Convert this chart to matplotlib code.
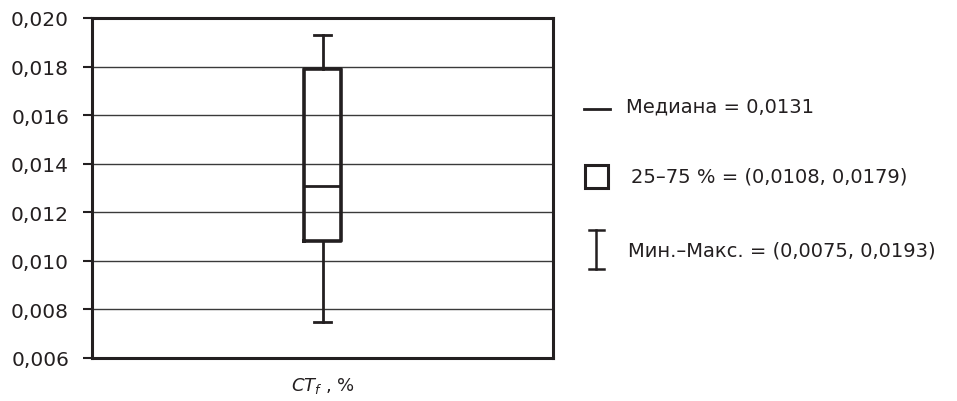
import matplotlib
matplotlib.use("Agg")
import matplotlib.pyplot as plt
from matplotlib.lines import Line2D
from matplotlib.patches import Rectangle
from matplotlib.ticker import FuncFormatter

plt.rcParams['font.family'] = ['DejaVu Sans']
plt.rcParams['mathtext.fontset'] = 'dejavusans'

# summary statistics for CT_f
median = 0.0131
q1, q3 = 0.0108, 0.0179
vmin, vmax = 0.0075, 0.0193
yticks = [0.006, 0.008, 0.010, 0.012, 0.014, 0.016, 0.018, 0.020]

legend_texts = [
    "Медиана = 0,0131",
    "25–75 % = (0,0108, 0,0179)",
    "Мин.–Макс. = (0,0075, 0,0193)",
]

dark = "#231f20"

fig = plt.figure(figsize=(9.57, 4.02), dpi=100)
ax = fig.add_axes([92 / 957, 1 - 359 / 402, (553 - 92) / 957, (359 - 19) / 402])

stats = [dict(med=median, q1=q1, q3=q3, whislo=vmin, whishi=vmax, fliers=[])]
ax.bxp(stats, positions=[1], widths=0.08, capwidths=0.037, showfliers=False,
       boxprops=dict(color=dark, linewidth=2.6),
       medianprops=dict(color=dark, linewidth=2.0),
       whiskerprops=dict(color=dark, linewidth=2.0),
       capprops=dict(color=dark, linewidth=2.0), zorder=3)

ax.set_xlim(0.5, 1.5)
ax.set_ylim(0.006, 0.020)
ax.set_yticks(yticks)
ax.yaxis.set_major_formatter(FuncFormatter(lambda v, p: f"{v:.3f}".replace(".", ",")))
ax.set_xticks([1])
ax.set_xticklabels([r"$\mathit{CT}_{\mathit{f}}$ , %"])
ax.tick_params(axis="x", length=0, pad=12, labelsize=13, labelcolor=dark)
ax.tick_params(axis="y", length=6.5, width=1.5, color=dark, labelsize=14.5, pad=10,
               labelcolor=dark)
ax.grid(axis="y", color="#3a3a3a", linewidth=1.0, zorder=0)
for s in ax.spines.values():
    s.set_linewidth(2.2)
    s.set_color(dark)

# legend drawn by hand on the right
fig.add_artist(Line2D([584 / 957, 610 / 957], [1 - 110 / 402] * 2, color=dark, lw=2.0))
fig.add_artist(Rectangle((585 / 957, 1 - 189 / 402), 23 / 957, 23 / 402,
                         fill=False, edgecolor=dark, lw=2.2))
xc = 596 / 957
fig.add_artist(Line2D([xc, xc], [1 - 231 / 402, 1 - 270 / 402], color=dark, lw=1.8))
for yy in (231, 270):
    fig.add_artist(Line2D([589 / 957, 604 / 957], [1 - yy / 402] * 2, color=dark, lw=1.8))

for (xt, yt), txt in zip([(626, 107), (631, 177), (628, 251)], legend_texts):
    fig.text(xt / 957, 1 - yt / 402, txt, fontsize=14, va="center", ha="left", color=dark)

fig.savefig("out.png", dpi=100)
